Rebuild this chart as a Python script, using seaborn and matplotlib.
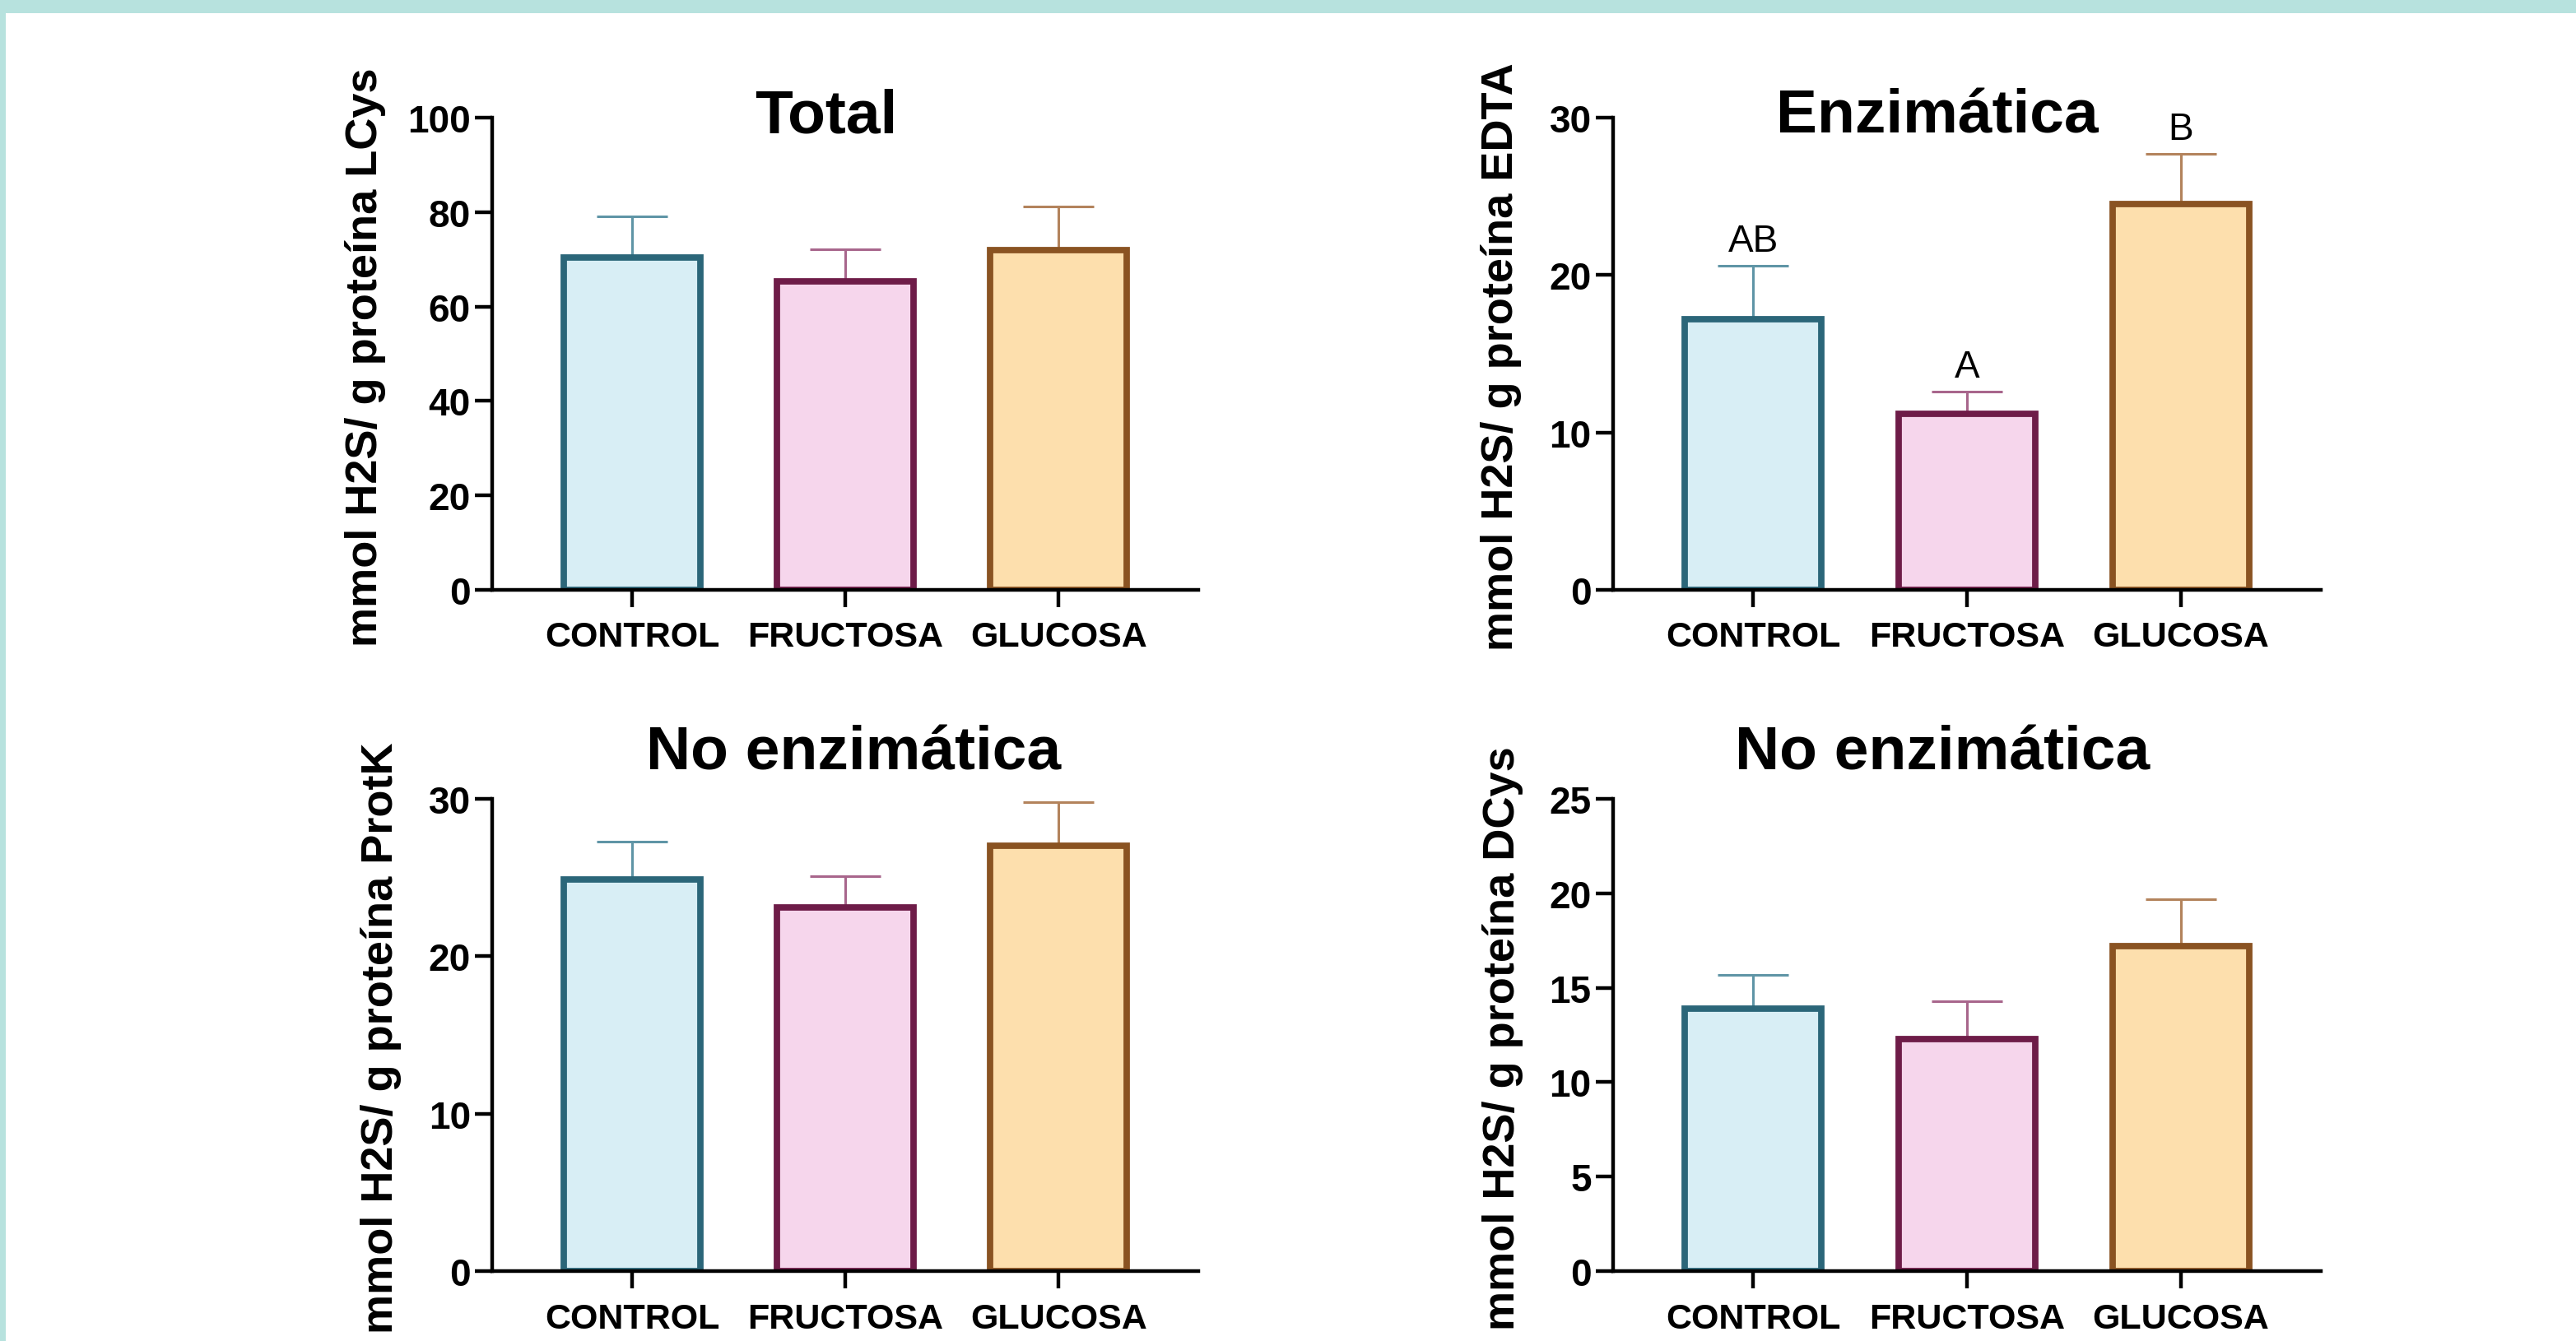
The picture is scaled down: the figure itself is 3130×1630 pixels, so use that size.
import numpy as np
import pandas as pd
import matplotlib
matplotlib.use("Agg")
import matplotlib.pyplot as plt
import seaborn as sns

sns.set_theme(style="white")
plt.rcParams['font.family'] = ['Liberation Sans', 'DejaVu Sans']

# data (mean and upper error per group)
groups = ['CONTROL', 'FRUCTOSA', 'GLUCOSA']

total_mean = [70.3, 65.3, 71.9]
total_err = [8.8, 6.8, 9.3]

enz_mean = [17.2, 11.2, 24.5]
enz_err = [3.4, 1.4, 3.2]
enz_letters = ['AB', 'A', 'B']

noenz_protk_mean = [24.9, 23.1, 27.0]
noenz_protk_err = [2.4, 2.0, 2.8]

noenz_dcys_mean = [13.9, 12.3, 17.2]
noenz_dcys_err = [1.8, 2.0, 2.5]

fills = ['#d8eef5', '#f6d6ec', '#fddfad']
edges = ['#2b6679', '#6e1c48', '#8a5322']
err_cols = ['#5f95a6', '#a8668c', '#b3835c']

panels = [
    dict(mean=total_mean, err=total_err, title='Total', ymax=100, step=20,
         ylabel='mmol H2S/ g proteína LCys', letters=None,
         rect=[0.1911, 0.5598, 0.2741, 0.3519], tx=0.473, ty=0.969, lx=-0.180),
    dict(mean=enz_mean, err=enz_err, title='Enzimática', ymax=30, step=10,
         ylabel='mmol H2S/ g proteína EDTA', letters=enz_letters,
         rect=[0.6262, 0.5598, 0.2748, 0.3519], tx=0.458, ty=0.969, lx=-0.158),
    dict(mean=noenz_protk_mean, err=noenz_protk_err, title='No enzimática', ymax=30, step=10,
         ylabel='mmol H2S/ g proteína ProtK', letters=None,
         rect=[0.1911, 0.0521, 0.2741, 0.3519], tx=0.512, ty=1.064, lx=-0.158),
    dict(mean=noenz_dcys_mean, err=noenz_dcys_err, title='No enzimática', ymax=25, step=5,
         ylabel='mmol H2S/ g proteína DCys', letters=None,
         rect=[0.6262, 0.0521, 0.2748, 0.3519], tx=0.465, ty=1.064, lx=-0.156),
]

fig = plt.figure(figsize=(15.65, 8.155), dpi=200)
fig.patch.set_facecolor('white')
# teal frame of the slide (top and left band)
fig.patches.append(plt.Rectangle((0, 1 - 17 / 1631), 1, 17 / 1631, transform=fig.transFigure,
                                 facecolor='#b7e2de', edgecolor='none', zorder=0))
fig.patches.append(plt.Rectangle((0, 0), 7 / 3130, 1, transform=fig.transFigure,
                                 facecolor='#b7e2de', edgecolor='none', zorder=0))

for p in panels:
    ax = fig.add_axes(p['rect'])
    df = pd.DataFrame({'grupo': groups, 'valor': p['mean']})
    sns.barplot(data=df, x='grupo', y='valor', hue='grupo', palette=fills, legend=False,
                width=0.64, linewidth=2.8, saturation=1, ax=ax, zorder=3, errorbar=None)
    for patch, fc, ec in zip(ax.patches, fills, edges):
        patch.set_facecolor(fc)
        patch.set_edgecolor(ec)
        patch.set_linewidth(2.8)
        patch.set_zorder(3)

    for i in range(3):
        ax.errorbar(i, p['mean'][i], yerr=[[0], [p['err'][i]]], fmt='none',
                    ecolor=err_cols[i], elinewidth=1.1, capsize=15.5, capthick=1.1, zorder=2)
        if p['letters']:
            ax.annotate(p['letters'][i], (i, p['mean'][i] + p['err'][i]), xytext=(0, 3),
                        textcoords='offset points', ha='center', va='bottom',
                        fontsize=16.5, color='black')

    ax.set_xlim(-0.656, 2.656)
    ax.set_ylim(0, p['ymax'])
    ax.set_yticks(np.arange(0, p['ymax'] + 1, p['step']))
    ax.set_xlabel('')
    ax.set_ylabel(p['ylabel'], fontsize=19.5, fontweight='bold', color='black', va='center')
    ax.yaxis.set_label_coords(p['lx'], 0.495)

    for s in ['top', 'right']:
        ax.spines[s].set_visible(False)
    for s in ['left', 'bottom']:
        ax.spines[s].set_color('black')
        ax.spines[s].set_linewidth(1.6)
        ax.spines[s].set_zorder(4)
    ax.tick_params(axis='both', direction='out', length=7.5, width=1.6, color='black',
                   left=True, bottom=True, labelcolor='black')
    ax.tick_params(axis='y', pad=2, labelsize=16.5)
    ax.tick_params(axis='x', pad=6, labelsize=15.5)
    for lab in ax.get_xticklabels() + ax.get_yticklabels():
        lab.set_fontweight('bold')

    ax.text(p['tx'], p['ty'], p['title'], transform=ax.transAxes, ha='center', va='baseline',
            fontsize=27, fontweight='bold', color='black')
    ax.set_facecolor('none')

fig.savefig('out.png', dpi=200)
